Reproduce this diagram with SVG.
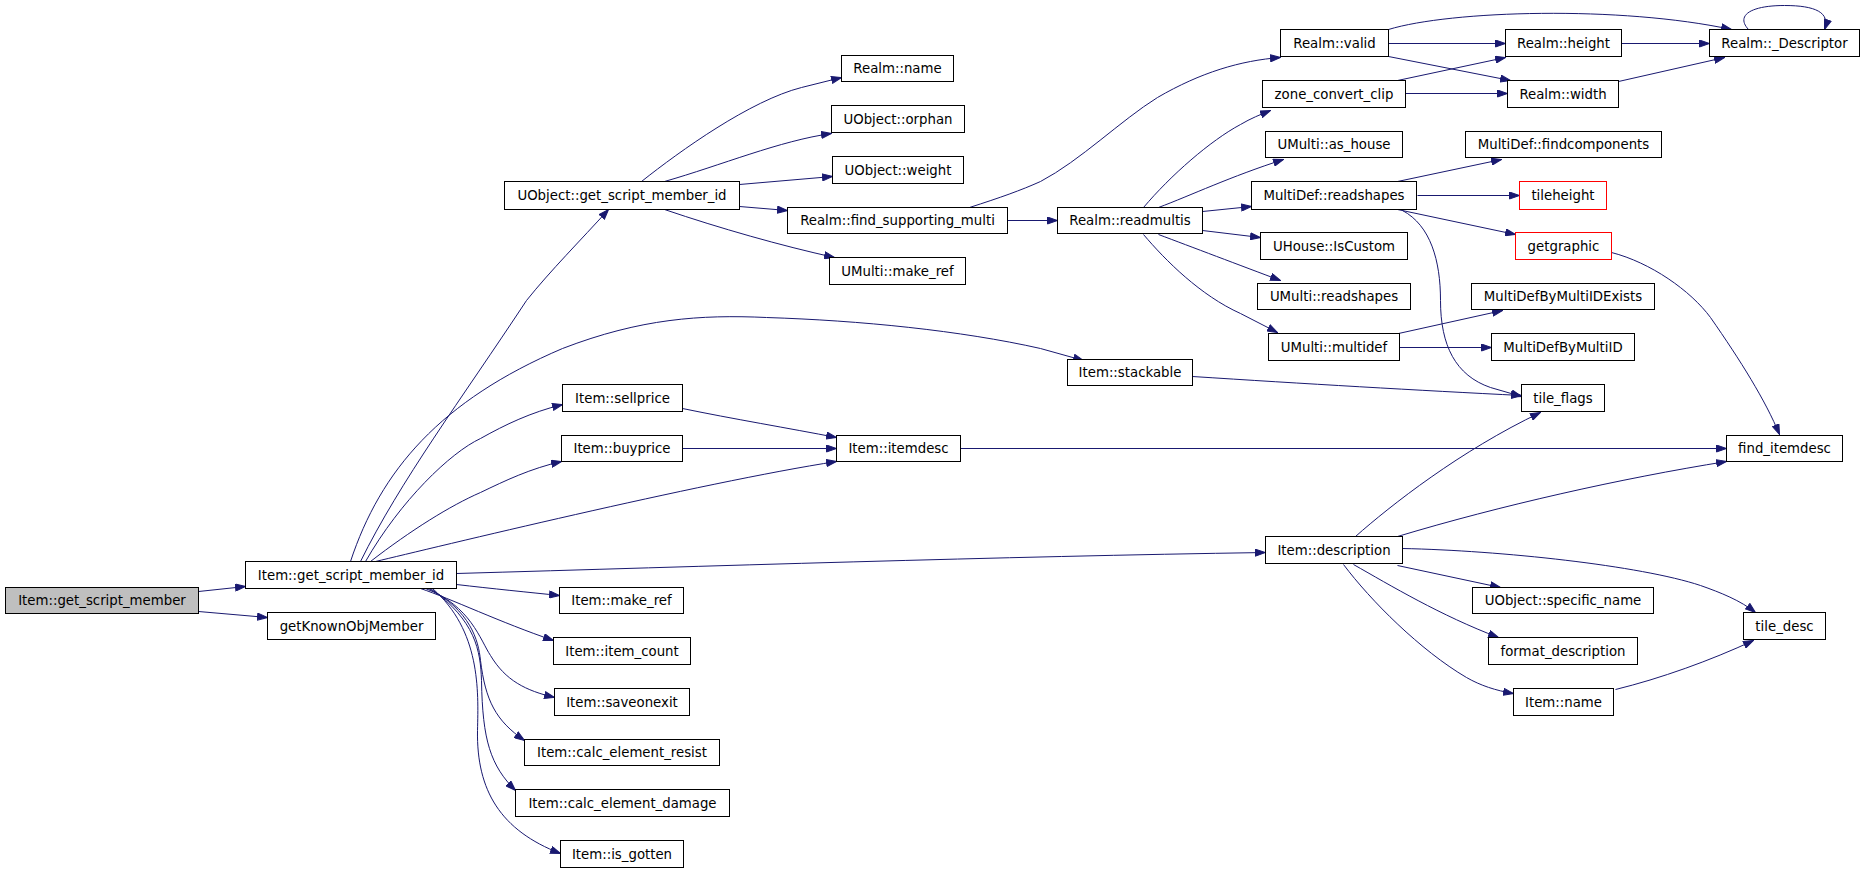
<svg xmlns="http://www.w3.org/2000/svg" width="1864" height="872" viewBox="0 0 1864 872">
<style>
.node rect{fill:#ffffff;stroke:#000000;stroke-width:1}
.node.root rect{fill:#bfbfbf}
.node.red rect{stroke:#ff0000}
.node text{font-family:"DejaVu Sans",sans-serif;font-size:13.3px;fill:#000000;text-anchor:middle}
#edges path{fill:none;stroke:#191970;stroke-width:1;marker-end:url(#arr)}
</style>
<defs>
<marker id="arr" markerUnits="userSpaceOnUse" markerWidth="11" markerHeight="8" refX="10.5" refY="4" orient="auto">
<path d="M0.5,0.5 L10.5,4 L0.5,7.5 Z" fill="#191970" stroke="#191970" stroke-width="1"/>
</marker>
</defs>
<rect x="0" y="0" width="1864" height="872" fill="#ffffff"/>
<g transform="translate(0.5 0.5)">
<g id="edges">
<path d="M198,591 L245,586"/>
<path d="M198,611 L267,617"/>
<path d="M360,561 C400,480 460,400 526,300 C550,270 580,240 608,209"/>
<path d="M350,561 C380,470 440,400 562,348 C640,318 700,314 766,317 C860,320 960,330 1040,348 L1083,360"/>
<path d="M365,561 C400,500 450,452 480,438 C505,424 530,412 562,404"/>
<path d="M370,561 C410,530 450,505 480,492 C505,480 530,468 561,461"/>
<path d="M375,561 C430,548 700,482 836,461"/>
<path d="M456,573 C700,566 1000,556 1265,552"/>
<path d="M456,584 C490,588 530,592 559,595"/>
<path d="M420,588 C450,598 500,622 553,640"/>
<path d="M425,588 C470,605 480,640 490,655 C505,680 525,690 554,697"/>
<path d="M428,588 C470,610 478,640 480,660 C485,700 495,720 524,740"/>
<path d="M430,588 C475,620 480,650 481,680 C482,740 490,765 515,790"/>
<path d="M432,588 C480,630 478,690 477,730 C476,790 500,830 560,853"/>
<path d="M641,181 C680,150 750,100 801,87 L841,77"/>
<path d="M664,181 C720,165 780,140 831,133"/>
<path d="M739,184 L832,176"/>
<path d="M739,206 L787,210"/>
<path d="M664,209 C720,228 780,245 834,257"/>
<path d="M1007,220 L1057,220"/>
<path d="M969,207 C1000,197 1020,190 1040,181 C1080,160 1120,120 1157,97 C1200,72 1240,60 1280,57"/>
<path d="M1143,207 C1170,175 1210,140 1240,124 C1250,118 1260,114 1270,110"/>
<path d="M1158,207 C1190,195 1230,176 1283,159"/>
<path d="M1202,211 L1251,206"/>
<path d="M1202,230 L1260,237"/>
<path d="M1158,234 C1190,246 1240,265 1280,280"/>
<path d="M1143,234 C1165,260 1200,295 1240,313 L1277,332"/>
<path d="M1388,43 L1505,43"/>
<path d="M1388,56 L1510,80"/>
<path d="M1388,29 C1450,10 1620,5 1731,29"/>
<path d="M1397,80 L1505,57"/>
<path d="M1405,93 L1507,93"/>
<path d="M1621,43 L1709,43"/>
<path d="M1618,81 L1724,57"/>
<path d="M1748,29 C1735,15 1750,5 1784,5 C1815,5 1830,12 1824,29"/>
<path d="M1397,181 L1501,159"/>
<path d="M1417,195 L1519,195"/>
<path d="M1397,209 L1515,234"/>
<path d="M1402,210 C1430,225 1440,260 1440,300 C1440,345 1455,375 1490,387 L1521,396"/>
<path d="M1398,333 L1502,310"/>
<path d="M1399,347 L1491,347"/>
<path d="M1611,252 C1650,262 1690,290 1710,317 C1740,360 1765,400 1779,434"/>
<path d="M1192,376 C1300,383 1420,390 1521,395"/>
<path d="M682,408 C730,418 790,428 836,437"/>
<path d="M682,448 L836,448"/>
<path d="M960,448 L1726,448"/>
<path d="M1355,536 C1390,505 1460,450 1540,412"/>
<path d="M1397,536 C1500,505 1620,478 1726,461"/>
<path d="M1402,548 C1500,550 1640,565 1700,585 C1720,592 1740,600 1755,612"/>
<path d="M1397,565 L1500,587"/>
<path d="M1353,564 C1390,585 1440,615 1498,637"/>
<path d="M1343,564 C1370,600 1420,650 1466,677 C1480,685 1495,690 1513,693"/>
<path d="M1615,689 C1660,678 1710,660 1753,640"/>
</g>
<g id="n1" class="node root"><rect x="5" y="587" width="193" height="26"/><text x="101.5" y="604.5">Item::get_script_member</text></g>
<g id="n2" class="node"><rect x="245" y="561" width="211" height="27"/><text x="350.5" y="579">Item::get_script_member_id</text></g>
<g id="n3" class="node"><rect x="267" y="612" width="168" height="27"/><text x="351" y="630">getKnownObjMember</text></g>
<g id="n4" class="node"><rect x="504" y="181" width="235" height="28"/><text x="621.5" y="199.5">UObject::get_script_member_id</text></g>
<g id="n5" class="node"><rect x="1067" y="359" width="125" height="26"/><text x="1129.5" y="376.5">Item::stackable</text></g>
<g id="n6" class="node"><rect x="562" y="384" width="120" height="27"/><text x="622" y="402">Item::sellprice</text></g>
<g id="n7" class="node"><rect x="561" y="435" width="121" height="26"/><text x="621.5" y="452.5">Item::buyprice</text></g>
<g id="n8" class="node"><rect x="836" y="435" width="124" height="26"/><text x="898" y="452.5">Item::itemdesc</text></g>
<g id="n9" class="node"><rect x="1265" y="536" width="137" height="27"/><text x="1333.5" y="554">Item::description</text></g>
<g id="n10" class="node"><rect x="559" y="587" width="124" height="26"/><text x="621" y="604.5">Item::make_ref</text></g>
<g id="n11" class="node"><rect x="553" y="637" width="137" height="27"/><text x="621.5" y="655">Item::item_count</text></g>
<g id="n12" class="node"><rect x="554" y="688" width="135" height="27"/><text x="621.5" y="706">Item::saveonexit</text></g>
<g id="n13" class="node"><rect x="524" y="739" width="195" height="26"/><text x="621.5" y="756.5">Item::calc_element_resist</text></g>
<g id="n14" class="node"><rect x="515" y="789" width="214" height="27"/><text x="622" y="807">Item::calc_element_damage</text></g>
<g id="n15" class="node"><rect x="560" y="840" width="123" height="27"/><text x="621.5" y="858">Item::is_gotten</text></g>
<g id="n16" class="node"><rect x="841" y="55" width="112" height="26"/><text x="897" y="72.5">Realm::name</text></g>
<g id="n17" class="node"><rect x="831" y="105" width="133" height="27"/><text x="897.5" y="123">UObject::orphan</text></g>
<g id="n18" class="node"><rect x="832" y="156" width="131" height="27"/><text x="897.5" y="174">UObject::weight</text></g>
<g id="n19" class="node"><rect x="787" y="207" width="220" height="26"/><text x="897" y="224.5">Realm::find_supporting_multi</text></g>
<g id="n20" class="node"><rect x="829" y="257" width="136" height="27"/><text x="897" y="275">UMulti::make_ref</text></g>
<g id="n21" class="node"><rect x="1057" y="207" width="145" height="26"/><text x="1129.5" y="224.5">Realm::readmultis</text></g>
<g id="n22" class="node"><rect x="1280" y="29" width="108" height="27"/><text x="1334" y="47">Realm::valid</text></g>
<g id="n23" class="node"><rect x="1262" y="80" width="143" height="27"/><text x="1333.5" y="98">zone_convert_clip</text></g>
<g id="n24" class="node"><rect x="1265" y="131" width="137" height="26"/><text x="1333.5" y="148.5">UMulti::as_house</text></g>
<g id="n25" class="node"><rect x="1251" y="181" width="165" height="28"/><text x="1333.5" y="199.5">MultiDef::readshapes</text></g>
<g id="n26" class="node"><rect x="1260" y="232" width="147" height="27"/><text x="1333.5" y="250">UHouse::IsCustom</text></g>
<g id="n27" class="node"><rect x="1257" y="283" width="153" height="26"/><text x="1333.5" y="300.5">UMulti::readshapes</text></g>
<g id="n28" class="node"><rect x="1268" y="333" width="131" height="27"/><text x="1333.5" y="351">UMulti::multidef</text></g>
<g id="n29" class="node"><rect x="1505" y="29" width="116" height="27"/><text x="1563" y="47">Realm::height</text></g>
<g id="n30" class="node"><rect x="1507" y="80" width="111" height="27"/><text x="1562.5" y="98">Realm::width</text></g>
<g id="n31" class="node"><rect x="1709" y="29" width="150" height="27"/><text x="1784" y="47">Realm::_Descriptor</text></g>
<g id="n32" class="node"><rect x="1465" y="131" width="196" height="26"/><text x="1563" y="148.5">MultiDef::findcomponents</text></g>
<g id="n33" class="node red"><rect x="1519" y="181" width="87" height="28"/><text x="1562.5" y="199.5">tileheight</text></g>
<g id="n34" class="node red"><rect x="1515" y="232" width="96" height="27"/><text x="1563" y="250">getgraphic</text></g>
<g id="n35" class="node"><rect x="1471" y="283" width="183" height="26"/><text x="1562.5" y="300.5">MultiDefByMultiIDExists</text></g>
<g id="n36" class="node"><rect x="1491" y="333" width="143" height="27"/><text x="1562.5" y="351">MultiDefByMultiID</text></g>
<g id="n37" class="node"><rect x="1521" y="384" width="83" height="27"/><text x="1562.5" y="402">tile_flags</text></g>
<g id="n38" class="node"><rect x="1726" y="435" width="116" height="26"/><text x="1784" y="452.5">find_itemdesc</text></g>
<g id="n39" class="node"><rect x="1472" y="587" width="181" height="26"/><text x="1562.5" y="604.5">UObject::specific_name</text></g>
<g id="n40" class="node"><rect x="1488" y="637" width="149" height="27"/><text x="1562.5" y="655">format_description</text></g>
<g id="n41" class="node"><rect x="1513" y="688" width="100" height="27"/><text x="1563" y="706">Item::name</text></g>
<g id="n42" class="node"><rect x="1743" y="612" width="82" height="27"/><text x="1784" y="630">tile_desc</text></g>
</g>
</svg>
